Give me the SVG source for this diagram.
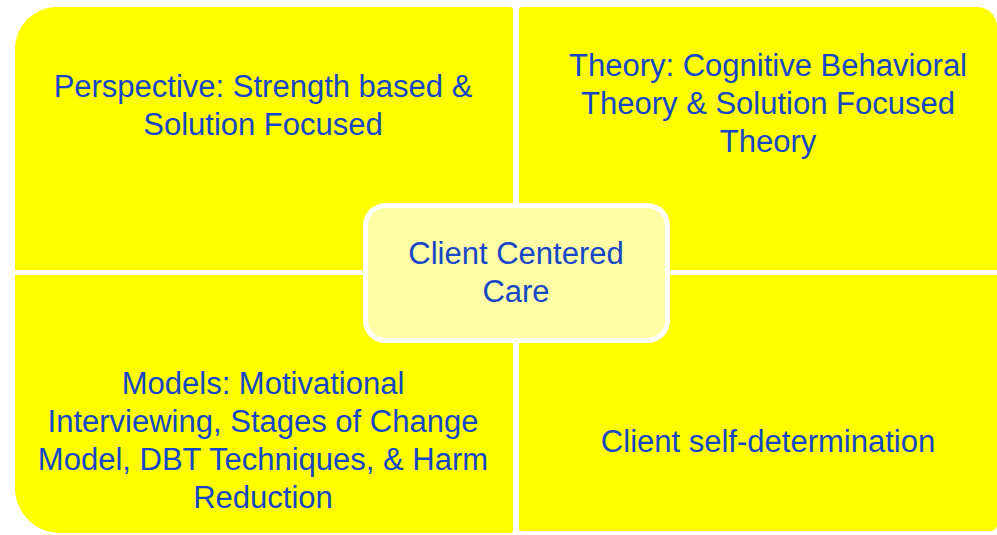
<svg xmlns="http://www.w3.org/2000/svg" width="997" height="535" viewBox="0 0 997 535">
<style>
.q{fill:#FFFF00}
.t{font-family:"Liberation Sans",Arial,sans-serif;font-size:31px;fill:#1547C6;text-anchor:middle}
</style>
<rect width="997" height="535" fill="#FFFFFF"/>
<g id="perspective">
<path class="q" d="M15,49 A42,42 0 0 1 57,7 L510,7 Q513,7 513,10 L513,270 L15,270 Z"/>
<text class="t" x="263" y="97">Perspective: Strength based &amp;</text>
<text class="t" x="263" y="135">Solution Focused</text>
</g>
<g id="theory">
<path class="q" d="M519,10 Q519,7 522,7 L977,7 A20,20 0 0 1 997,27 L997,270 L519,270 Z"/>
<text class="t" x="768" y="76">Theory: Cognitive Behavioral</text>
<text class="t" x="768" y="114">Theory &amp; Solution Focused</text>
<text class="t" x="768" y="152">Theory</text>
</g>
<g id="models">
<path class="q" d="M15,275 L513,275 L513,530 Q513,533 510,533 L60,533 A45,45 0 0 1 15,488 Z"/>
<text class="t" x="263" y="394">Models: Motivational</text>
<text class="t" x="263" y="432">Interviewing, Stages of Change</text>
<text class="t" x="263" y="470">Model, DBT Techniques, &amp; Harm</text>
<text class="t" x="263" y="508">Reduction</text>
</g>
<g id="self-determination">
<path class="q" d="M519,275 L997,275 L997,525 A6,6 0 0 1 991,531 L522,531 Q519,531 519,528 Z"/>
<text class="t" x="768" y="452">Client self-determination</text>
</g>
<g id="connectors"></g>
<g id="center">
<rect x="365.5" y="205.5" width="302" height="135" rx="20" fill="#FFFDA6" stroke="#FFFFFF" stroke-width="5"/>
<text class="t" x="516" y="264">Client Centered</text>
<text class="t" x="516" y="302">Care</text>
</g>
</svg>
